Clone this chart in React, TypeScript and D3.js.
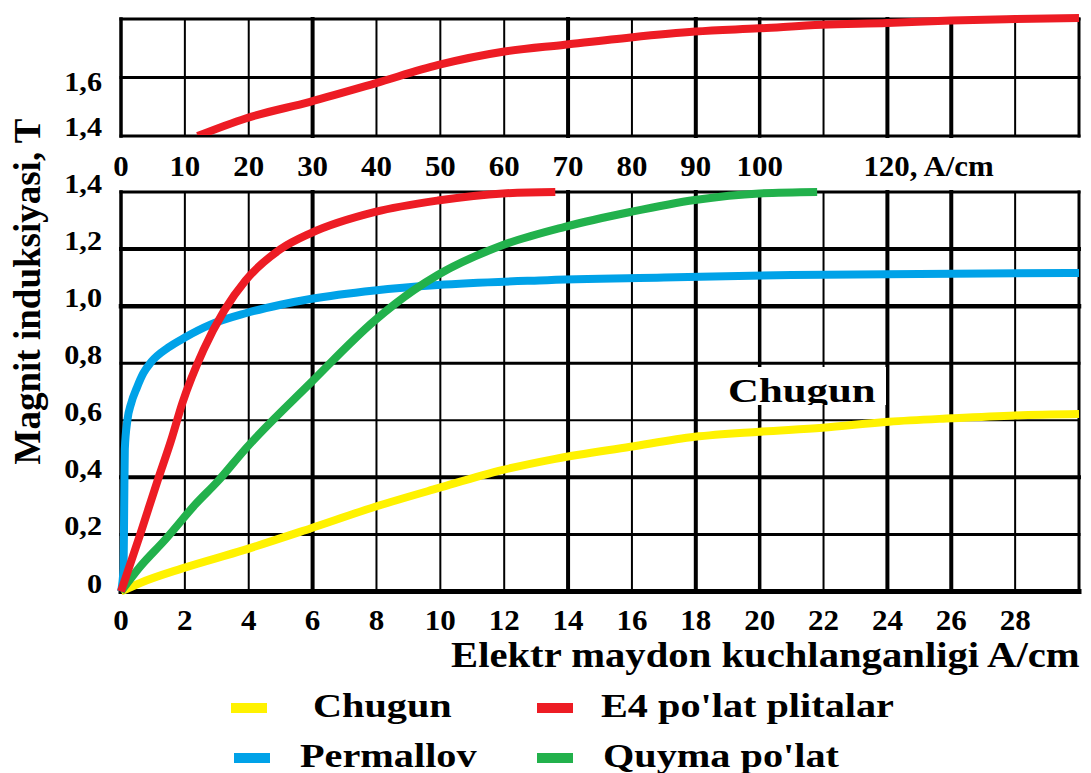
import React from 'react';
import * as d3 from 'd3';

const W = 1091;
const H = 773;
const FONT = "'Liberation Serif','Times New Roman',serif";

// ---- axis ticks ----
const bottomXGrid = [0, 2, 4, 6, 8, 10, 12, 14, 16, 18, 20, 22, 24, 26, 28, 30];
const bottomXTicks = [0, 2, 4, 6, 8, 10, 12, 14, 16, 18, 20, 22, 24, 26, 28];
const topXGrid = [0, 10, 20, 30, 40, 50, 60, 70, 80, 90, 100, 110, 120, 130, 140, 150];
const topXTicks = [0, 10, 20, 30, 40, 50, 60, 70, 80, 90, 100];
const topXLastTick = 120;
const topXLastLabel = '120, A/cm';
const bottomYTicks = [0, 0.2, 0.4, 0.6, 0.8, 1.0, 1.2, 1.4];
const topYGrid = [1.4, 1.6, 1.8];
const topYTicks = [1.4, 1.6];

// ---- series (H in A/cm, B in T) ----
const chugun: [number, number][] = [
  [0, 0], [0.6, 0.03], [1.92, 0.081], [3.84, 0.145], [5.93, 0.221], [7.96, 0.297],
  [9.93, 0.362], [11.96, 0.426], [13.6, 0.465], [15.95, 0.507], [17.97, 0.542],
  [19.99, 0.56], [21.97, 0.574], [24.05, 0.595], [26, 0.607], [28, 0.617], [30, 0.622],
];
const permallov: [number, number][] = [
  [0, 0], [0.08, 0.08], [0.1, 0.3], [0.12, 0.5], [0.2, 0.6], [0.32, 0.66],
  [0.5, 0.715], [0.7, 0.765], [0.95, 0.805], [1.48, 0.855], [2.0, 0.89], [2.8, 0.935],
  [3.9, 0.975], [5.0, 1.005], [5.93, 1.025], [7.94, 1.055], [9.92, 1.074],
  [13.1, 1.09], [17, 1.1], [21, 1.109], [25, 1.113], [30, 1.116],
];
const quyma: [number, number][] = [
  [0, 0], [0.6, 0.087], [1.37, 0.18], [2.36, 0.309], [3.02, 0.385], [3.9, 0.5],
  [5.93, 0.73], [7.96, 0.951], [9.17, 1.056], [9.93, 1.11], [11.96, 1.214],
  [13.9, 1.278], [15.95, 1.33], [17.97, 1.372], [19.99, 1.395], [21.8, 1.4],
];
const e4Low: [number, number][] = [
  [0, 0], [0.6, 0.2], [1.15, 0.39], [1.57, 0.53], [1.92, 0.66], [2.58, 0.846],
  [3.24, 0.986], [3.9, 1.09], [5.0, 1.2], [5.93, 1.255], [7.96, 1.33],
  [9.92, 1.37], [11.96, 1.395], [13.6, 1.4],
];
const e4High: [number, number][] = [
  [12, 1.4], [19.5, 1.46], [29.6, 1.517], [39.8, 1.58], [49.7, 1.643], [59.8, 1.688],
  [69.5, 1.712], [79.8, 1.737], [89.9, 1.757], [99.9, 1.768], [109.8, 1.78],
  [120, 1.786], [130, 1.795], [140, 1.8], [150, 1.803],
];

const seriesNames = ['Chugun', 'E4 po\'lat plitalar', 'Permallov', 'Quyma po\'lat'];
const seriesColors = ['#FFF200', '#ED1C24', '#00A2E8', '#22B14C'];
const annotationText = 'Chugun';
const xTitle = 'Elektr maydon kuchlanganligi A/cm';
const yTitle = 'Magnit induksiyasi, T';

// ---- scales ----
const xB = d3.scaleLinear().domain([0, 30]).range([121, 1079]);
const yB = d3.scaleLinear().domain([0, 1.4]).range([591.5, 192]);
const xT = d3.scaleLinear().domain([0, 150]).range([121, 1079]);
const yT = d3.scaleLinear().domain([1.4, 1.8]).range([136, 19]);

const fmt = (v: number) => (v === 0 ? '0' : v.toFixed(1).replace('.', ','));

const vWidth = (i: number, n: number) => {
  if (i === 0) return 3.5;
  if (i === n - 1) return 3;
  if ([3, 7, 9, 12, 13].includes(i)) return 4;
  if (i === 10) return 3.5;
  return 2;
};
const hWidthBottom = [5, 3, 4, 2, 3, 4.5, 4, 3];
const hWidthTop = [3, 3, 3];

function Txt(props: { x: number; y: number; fs: number; sx?: number; anchor?: string; children: any }) {
  const { x, y, fs, sx = 1, anchor = 'start', children } = props;
  return (
    <text
      transform={`translate(${x},${y}) scale(${sx},1)`}
      fontSize={fs}
      fontFamily={FONT}
      fontWeight="bold"
      textAnchor={anchor as any}
      fill="#000"
    >
      {children}
    </text>
  );
}

export default function App() {
  const lineB = d3
    .line<[number, number]>()
    .x((d) => xB(d[0]))
    .y((d) => yB(d[1]))
    .curve(d3.curveMonotoneX);
  const lineT = d3
    .line<[number, number]>()
    .x((d) => xT(d[0]))
    .y((d) => yT(d[1]))
    .curve(d3.curveMonotoneX);

  const [bx0, bx1] = xB.range();
  const [by0, by1] = yB.range();
  const [ty0, ty1] = yT.range();

  const legendRows = [
    { i: 0, sx: 231, tx: 313, y: 708, ty: 717 },
    { i: 1, sx: 537, tx: 601, y: 708, ty: 717 },
    { i: 2, sx: 234, tx: 300, y: 758, ty: 767 },
    { i: 3, sx: 537, tx: 603, y: 758, ty: 767 },
  ];

  return (
    <svg
      width={W}
      height={H}
      viewBox={`0 0 ${W} ${H}`}
      style={{ position: 'absolute', left: 0, top: 0, background: '#fff' }}
    >
      <defs>
        <clipPath id="topClip">
          <rect x={100} y={0} width={991} height={ty0 - 1} />
        </clipPath>
        <clipPath id="annClip">
          <rect x={706} y={367} width={180} height={38} />
        </clipPath>
      </defs>
      <rect x={0} y={0} width={W} height={H} fill="#fff" />

      {/* ---- top panel grid ---- */}
      <g stroke="#000" strokeLinecap="square">
        {topXGrid.map((v, i) => (
          <line key={'tv' + v} x1={xT(v)} x2={xT(v)} y1={ty1} y2={ty0} strokeWidth={vWidth(i, topXGrid.length)} />
        ))}
        {topYGrid.map((v, i) => (
          <line key={'th' + v} x1={bx0} x2={bx1} y1={yT(v)} y2={yT(v)} strokeWidth={hWidthTop[i]} />
        ))}
      </g>

      {/* ---- bottom panel grid ---- */}
      <g stroke="#000" strokeLinecap="square">
        {bottomXGrid.map((v, i) => (
          <line key={'bv' + v} x1={xB(v)} x2={xB(v)} y1={by1} y2={by0} strokeWidth={vWidth(i, bottomXGrid.length)} />
        ))}
        {bottomYTicks.map((v, i) => (
          <line key={'bh' + v} x1={bx0} x2={bx1} y1={yB(v)} y2={yB(v)} strokeWidth={hWidthBottom[i]} />
        ))}
      </g>

      {/* annotation background + label */}
      <rect x={706} y={367} width={180} height={38} fill="#fff" />
      <g clipPath="url(#annClip)">
        <Txt x={728} y={401.5} fs={34} sx={1.26}>{annotationText}</Txt>
      </g>

      {/* ---- curves ---- */}
      <g fill="none" strokeWidth={8}>
        <path d={lineB(chugun) || ''} stroke={seriesColors[0]} />
        <path d={lineB(permallov) || ''} stroke={seriesColors[2]} />
        <path d={lineB(quyma) || ''} stroke={seriesColors[3]} />
        <path d={lineB(e4Low) || ''} stroke={seriesColors[1]} />
        <path d={lineT(e4High) || ''} stroke={seriesColors[1]} clipPath="url(#topClip)" />
      </g>

      {/* ---- top panel labels ---- */}
      {topXTicks.map((v) => (
        <Txt key={'tx' + v} x={xT(v)} y={176} fs={30} sx={1.03} anchor="middle">{String(v)}</Txt>
      ))}
      <Txt x={xT(topXLastTick) - 24} y={176} fs={30} sx={1.03}>{topXLastLabel}</Txt>
      {topYTicks.map((v) => (
        <Txt key={'ty' + v} x={102} y={yT(v) + (v === 1.4 ? 0 : 13)} fs={27} sx={1.12} anchor="end">{fmt(v)}</Txt>
      ))}

      {/* ---- bottom panel labels ---- */}
      {bottomXTicks.map((v) => (
        <Txt key={'bx' + v} x={xB(v)} y={630} fs={29} sx={1.07} anchor="middle">{String(v)}</Txt>
      ))}
      {bottomYTicks.map((v) => (
        <Txt key={'by' + v} x={102} y={yB(v) + 1} fs={27} sx={1.12} anchor="end">{fmt(v)}</Txt>
      ))}

      {/* ---- axis titles ---- */}
      <Txt x={451} y={667} fs={36} sx={1.13}>{xTitle}</Txt>
      <text
        transform="translate(40,291.5) rotate(-90)"
        fontSize={37}
        fontFamily={FONT}
        fontWeight="bold"
        textAnchor="middle"
        fill="#000"
      >
        {yTitle}
      </text>

      {/* ---- legend ---- */}
      {legendRows.map((r) => (
        <g key={'lg' + r.i}>
          <rect x={r.sx} y={r.y - 5} width={36} height={10} fill={seriesColors[r.i]} />
          <Txt x={r.tx} y={r.ty} fs={33} sx={1.22}>{seriesNames[r.i]}</Txt>
        </g>
      ))}
    </svg>
  );
}
